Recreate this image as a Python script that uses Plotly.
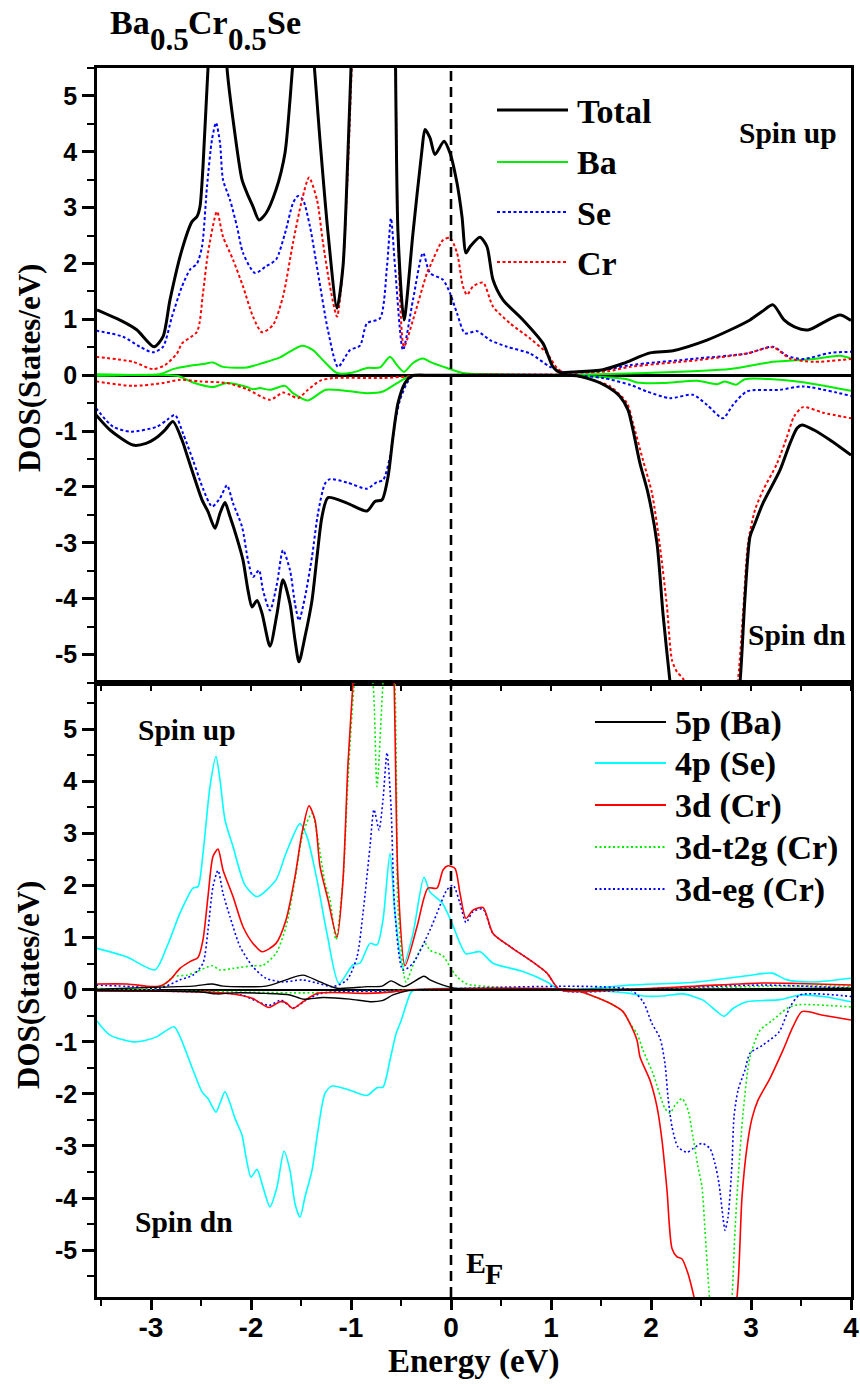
import plotly.graph_objects as go

# ---------------- Upper panel: total and atom-resolved DOS ----------------
E_total_up = [-3.54, -3.28, -3.14, -2.97, -2.88, -2.81, -2.69, -2.59, -2.54, -2.51, -2.48, -2.43, -2.37, -2.32,
              -2.27, -2.24, -2.18, -2.09, -2.04, -1.98, -1.92, -1.85, -1.75, -1.66, -1.61, -1.58, -1.51, -1.45,
              -1.39, -1.31, -1.23, -1.14, -1.08, -1.03, -0.99, -0.90, -0.78, -0.66, -0.58, -0.56, -0.53, -0.47,
              -0.38, -0.29, -0.26, -0.21, -0.16, -0.07, -0.01, 0.06, 0.11, 0.15, 0.19, 0.29, 0.36, 0.42, 0.52,
              0.72, 0.92, 1.02, 1.09, 1.22, 1.52, 1.72, 1.99, 2.22, 2.56, 2.79, 2.99, 3.11, 3.22, 3.33, 3.43,
              3.57, 3.74, 3.89, 4.0]
total_up = [1.17, 0.96, 0.81, 0.51, 0.69, 1.35, 2.25, 2.75, 2.84, 3.02, 3.74, 5.5, 7.2, 7.5,
            6.5, 5.5, 4.58, 3.5, 3.26, 3.02, 2.78, 2.9, 3.32, 3.98, 4.93, 5.6, 6.6, 6.8,
            6.0, 4.21, 2.55, 1.2, 1.95, 4.0, 6.0, 10.0, 12.0, 13.0, 9.0, 6.5, 2.55, 0.99,
            2.55, 4.04, 4.4, 4.25, 3.95, 4.19, 3.98, 3.44, 2.84, 2.19, 2.3, 2.47, 2.3, 1.71, 1.35,
            0.99, 0.57, 0.15, 0.05, 0.06, 0.1, 0.21, 0.4, 0.44, 0.63, 0.81, 0.99, 1.14, 1.26, 0.99, 0.87,
            0.81, 0.96, 1.08, 0.98]

E_total_dn = [-3.55, -3.41, -3.18, -3.05, -2.94, -2.86, -2.78, -2.69, -2.64, -2.58, -2.49, -2.43, -2.36, -2.31,
              -2.26, -2.21, -2.14, -2.08, -2.03, -1.99, -1.94, -1.89, -1.81, -1.74, -1.68, -1.61, -1.56, -1.52,
              -1.46, -1.39, -1.34, -1.29, -1.23, -1.04, -0.84, -0.76, -0.69, -0.63, -0.58, -0.53, -0.46, -0.39,
              -0.2, 0.5, 1.1, 1.26, 1.39, 1.56, 1.69, 1.77, 1.82, 1.89, 1.97, 2.06, 2.12, 2.19, 2.3, 2.55,
              2.78, 2.89, 2.94, 2.99, 3.04, 3.12, 3.29, 3.39, 3.46, 3.51, 3.63, 3.79, 4.0]
total_dn = [-0.71, -0.98, -1.25, -1.22, -1.11, -0.98, -0.83, -1.16, -1.43, -1.76, -2.23, -2.44, -2.74, -2.47,
            -2.28, -2.53, -2.92, -3.31, -3.85, -4.15, -4.03, -4.26, -4.85, -4.27, -3.66, -4.09, -4.74, -5.13,
            -4.68, -4.03, -3.25, -2.53, -2.19, -2.29, -2.43, -2.26, -2.23, -1.82, -1.1, -0.5, -0.14, -0.01,
            0.0, 0.0, 0.0, -0.01, -0.07, -0.2, -0.38, -0.62, -0.98, -1.58, -2.11, -3.01, -4.27, -5.49, -7.2, -8.5,
            -7.2, -5.5, -3.97, -2.89, -2.65, -2.29, -1.7, -1.22, -0.95, -0.89, -0.98, -1.16, -1.43]

E_ba_up = [-3.55, -2.91, -2.78, -2.61, -2.48, -2.38, -2.28, -2.04, -1.88, -1.71, -1.49, -1.38, -1.28, -1.14,
           -0.98, -0.84, -0.71, -0.61, -0.54, -0.47, -0.38, -0.28, -0.21, -0.04, 0.12, 0.5, 1.2, 1.96, 2.79,
           3.22, 3.63, 3.89, 4.0]
ba_up = [0.02, 0.02, 0.11, 0.17, 0.2, 0.23, 0.15, 0.14, 0.22, 0.32, 0.53, 0.45, 0.27, 0.04,
         0.05, 0.13, 0.14, 0.33, 0.18, 0.06, 0.22, 0.3, 0.24, 0.13, 0.04, 0.01, 0.01, 0.04, 0.11,
         0.24, 0.29, 0.35, 0.3]

E_ba_dn = [-3.55, -2.74, -2.58, -2.38, -2.24, -2.04, -1.98, -1.91, -1.81, -1.66, -1.58, -1.43, -1.25, -0.84,
           -0.68, -0.54, -0.43, -0.3, 1.2, 1.5, 1.76, 1.86, 2.12, 2.46, 2.66, 2.74, 2.85, 2.94, 3.46, 4.0]
ba_dn = [-0.01, -0.01, -0.13, -0.21, -0.14, -0.21, -0.25, -0.23, -0.26, -0.19, -0.32, -0.45, -0.26, -0.32,
         -0.29, -0.14, -0.03, 0.0, 0.0, -0.03, -0.07, -0.13, -0.14, -0.1, -0.16, -0.11, -0.17, -0.07, -0.11, -0.28]

E_se_up = [-3.55, -3.28, -3.11, -2.98, -2.88, -2.79, -2.69, -2.61, -2.54, -2.49, -2.44, -2.39, -2.35, -2.31,
           -2.28, -2.21, -2.14, -2.08, -1.96, -1.85, -1.75, -1.66, -1.58, -1.53, -1.48, -1.41, -1.33, -1.23,
           -1.13, -1.01, -0.91, -0.84, -0.71, -0.64, -0.60, -0.56, -0.48, -0.38, -0.28, -0.21, -0.08, -0.01,
           0.06, 0.14, 0.26, 0.39, 0.56, 0.79, 0.99, 1.12, 1.46, 1.79, 2.46, 2.96, 3.22, 3.36, 3.52, 3.79, 4.0]
se_up = [0.8, 0.69, 0.51, 0.41, 0.51, 1.05, 1.59, 1.89, 2.0, 2.3, 3.38, 4.22, 4.52, 4.16,
         3.5, 3.14, 2.66, 2.19, 1.83, 1.95, 2.07, 2.54, 3.08, 3.21, 3.14, 2.66, 1.83, 0.8,
         0.15, 0.45, 0.53, 0.93, 1.02, 1.95, 2.81, 1.95, 0.45, 1.35, 2.19, 1.83, 1.71, 1.47,
         1.11, 0.75, 0.79, 0.63, 0.51, 0.39, 0.15, 0.06, 0.07, 0.18, 0.3, 0.39, 0.51, 0.35, 0.29, 0.4, 0.42]

E_se_dn = [-3.55, -3.38, -3.2, -2.94, -2.84, -2.76, -2.68, -2.58, -2.48, -2.39, -2.31, -2.24, -2.18, -2.09,
           -2.03, -1.98, -1.92, -1.88, -1.81, -1.74, -1.68, -1.61, -1.56, -1.52, -1.46, -1.39, -1.33, -1.26,
           -1.21, -1.04, -0.84, -0.74, -0.68, -0.61, -0.56, -0.51, -0.44, -0.38, -0.2, 1.2, 1.52, 1.79, 1.96,
           2.19, 2.42, 2.56, 2.72, 2.82, 2.96, 3.29, 3.52, 4.0]
se_dn = [-0.59, -0.92, -1.01, -0.92, -0.8, -0.71, -1.04, -1.52, -2.03, -2.35, -2.2, -1.97, -2.29, -2.71,
         -3.31, -3.61, -3.49, -3.85, -4.21, -3.73, -3.13, -3.49, -4.09, -4.39, -3.97, -3.25, -2.47, -1.94,
         -1.86, -1.92, -2.03, -1.91, -1.88, -1.46, -0.86, -0.44, -0.14, -0.01, 0.0, 0.0, -0.05, -0.17, -0.29,
         -0.41, -0.35, -0.53, -0.77, -0.53, -0.29, -0.26, -0.2, -0.37]

E_cr_up = [-3.55, -3.18, -2.98, -2.86, -2.74, -2.69, -2.54, -2.48, -2.43, -2.34, -2.28, -2.18, -2.08, -1.98,
           -1.89, -1.78, -1.68, -1.58, -1.49, -1.42, -1.34, -1.28, -1.21, -1.14, -1.08, -1.03, -0.99, -0.92,
           -0.80, -0.68, -0.59, -0.555, -0.53, -0.47, -0.38, -0.24, -0.21, -0.08, -0.01, 0.06, 0.12, 0.16,
           0.22, 0.32, 0.42, 0.59, 0.79, 0.96, 1.06, 1.12, 1.56, 1.79, 2.46, 2.96, 3.22, 3.39, 3.63, 4.0]
cr_up = [0.33, 0.24, 0.11, 0.18, 0.39, 0.57, 0.78, 1.47, 2.19, 2.93, 2.48, 2.07, 1.59, 1.05,
         0.77, 0.9, 1.41, 2.37, 3.14, 3.54, 3.14, 2.37, 1.59, 1.05, 1.95, 3.74, 5.6, 8.0,
         10.0, 11.0, 8.0, 5.5, 2.54, 0.51, 0.99, 1.83, 1.95, 2.42, 2.46, 2.19, 1.59, 1.44,
         1.59, 1.66, 1.23, 0.93, 0.66, 0.39, 0.13, 0.06, 0.07, 0.15, 0.27, 0.39, 0.5, 0.3, 0.24, 0.29]

E_cr_dn = [-3.55, -3.18, -2.88, -2.71, -2.51, -2.24, -2.04, -1.81, -1.68, -1.61, -1.53, -1.43, -1.31, -1.18,
           -0.68, -0.34, -0.2, 1.2, 1.39, 1.59, 1.76, 1.82, 1.92, 2.01, 2.09, 2.16, 2.21, 2.26, 2.32, 2.36,
           2.5, 2.7, 2.86, 2.92, 2.97, 3.04, 3.12, 3.26, 3.36, 3.43, 3.52, 3.72, 4.0]
cr_dn = [-0.11, -0.19, -0.14, -0.08, -0.11, -0.14, -0.25, -0.44, -0.31, -0.35, -0.41, -0.26, -0.1, -0.05,
         -0.05, -0.01, 0.0, 0.0, -0.07, -0.2, -0.5, -0.86, -1.52, -2.11, -3.07, -4.15, -5.1, -5.31, -5.43, -5.7,
         -7.0, -7.0, -5.6, -4.27, -3.01, -2.41, -2.06, -1.58, -1.1, -0.74, -0.57, -0.67, -0.77]

# ---------------- Lower panel: orbital-resolved DOS ----------------
E_ba5p_up = [-3.55, -2.91, -2.58, -2.39, -2.28, -1.85, -1.65, -1.48, -1.31, -1.14, -0.84, -0.69, -0.6, -0.47,
             -0.27, -0.21, -0.08, 0.06, 0.29, 1.5, 4.0]
ba5p_up = [0.01, 0.05, 0.07, 0.11, 0.07, 0.07, 0.19, 0.28, 0.15, 0.03, 0.06, 0.07, 0.17, 0.06,
           0.26, 0.19, 0.09, 0.02, 0.0, 0.0, 0.03]

E_ba5p_dn = [-3.55, -2.51, -2.34, -2.18, -1.85, -1.61, -1.48, -1.28, -1.01, -0.81, -0.69, -0.58, -0.44, -0.3, 4.0]
ba5p_dn = [-0.02, -0.04, -0.08, -0.06, -0.07, -0.1, -0.18, -0.15, -0.18, -0.23, -0.21, -0.1, -0.02, 0.0, 0.0]

E_se4p_up = [-3.55, -3.24, -2.96, -2.84, -2.71, -2.58, -2.53, -2.48, -2.41, -2.35, -2.31, -2.26, -2.18, -2.06,
             -1.94, -1.75, -1.65, -1.51, -1.44, -1.34, -1.24, -1.12, -0.98, -0.91, -0.81, -0.74, -0.68, -0.61,
             -0.56, -0.48, -0.38, -0.27, -0.21, -0.09, 0.01, 0.09, 0.15, 0.29, 0.42, 0.72, 0.96, 1.09, 1.79,
             2.46, 2.96, 3.21, 3.36, 3.63, 4.0]
se4p_up = [0.8, 0.63, 0.38, 0.83, 1.47, 1.95, 1.98, 2.62, 3.9, 4.48, 4.03, 3.26, 2.75, 2.01,
           1.79, 2.11, 2.62, 3.19, 2.94, 2.11, 1.08, 0.12, 0.48, 0.51, 0.89, 0.86, 1.34, 2.62,
           1.47, 0.44, 1.08, 2.16, 1.88, 1.67, 1.28, 0.89, 0.69, 0.73, 0.51, 0.35, 0.15, 0.0, 0.09,
           0.15, 0.27, 0.32, 0.19, 0.15, 0.22]

E_se4p_dn = [-3.55, -3.41, -3.18, -3.05, -2.94, -2.77, -2.71, -2.58, -2.49, -2.43, -2.35, -2.31, -2.26, -2.21,
             -2.16, -2.09, -2.05, -2.0, -1.94, -1.88, -1.81, -1.74, -1.67, -1.61, -1.56, -1.51, -1.46, -1.39,
             -1.33, -1.26, -1.19, -1.01, -0.84, -0.74, -0.68, -0.61, -0.55, -0.5, -0.45, -0.4, -0.35, 1.2,
             1.79, 1.92, 2.12, 2.32, 2.52, 2.66, 2.73, 2.82, 2.96, 3.29, 3.49, 3.72, 4.0]
se4p_dn = [-0.58, -0.87, -1.0, -0.97, -0.9, -0.71, -0.9, -1.54, -1.96, -2.09, -2.35, -2.18, -1.96, -2.18,
           -2.47, -2.79, -3.21, -3.6, -3.45, -3.79, -4.17, -3.79, -3.1, -3.47, -4.11, -4.37, -3.98, -3.47,
           -2.7, -1.99, -1.85, -1.93, -2.03, -1.88, -1.87, -1.35, -0.85, -0.6, -0.3, -0.05, 0.0, 0.0,
           -0.07, -0.12, -0.12, -0.08, -0.2, -0.42, -0.51, -0.36, -0.23, -0.19, -0.1, -0.13, -0.23]

E_cr3d_up = [-3.55, -3.24, -3.0, -2.91, -2.81, -2.71, -2.61, -2.53, -2.48, -2.43, -2.38, -2.33, -2.28, -2.18,
             -2.08, -1.98, -1.89, -1.75, -1.65, -1.56, -1.49, -1.42, -1.36, -1.31, -1.23, -1.14, -1.08, -1.03,
             -0.97, -0.9, -0.78, -0.66, -0.59, -0.56, -0.53, -0.46, -0.34, -0.23, -0.14, -0.08, -0.03, 0.04,
             0.09, 0.15, 0.22, 0.32, 0.42, 0.59, 0.79, 0.96, 1.09, 1.79, 2.46, 3.12, 3.46, 4.0]
cr3d_up = [0.11, 0.11, 0.06, 0.07, 0.19, 0.41, 0.54, 0.62, 0.96, 1.79, 2.56, 2.7, 2.3, 1.79,
           1.21, 0.89, 0.73, 0.89, 1.34, 2.17, 3.01, 3.53, 3.26, 2.37, 1.73, 1.01, 2.11, 4.35,
           6.2, 8.5, 11.0, 11.5, 8.0, 5.0, 2.11, 0.46, 1.21, 1.95, 1.95, 2.3, 2.38, 2.33,
           1.85, 1.37, 1.53, 1.58, 1.08, 0.83, 0.57, 0.32, 0.0, 0.01, 0.07, 0.13, 0.12, 0.09]

E_cr3d_dn = [-3.55, -2.51, -2.18, -1.98, -1.82, -1.71, -1.65, -1.58, -1.48, -1.34, -0.84, -0.58, -0.41, 1.22,
             1.39, 1.59, 1.72, 1.79, 1.86, 1.89, 1.99, 2.06, 2.11, 2.16, 2.21, 2.26, 2.31, 2.37, 2.43, 2.55,
             2.75, 2.86, 2.91, 2.96, 3.01, 3.07, 3.19, 3.32, 3.42, 3.51, 3.72, 4.0]
cr3d_dn = [-0.02, -0.04, -0.08, -0.17, -0.34, -0.23, -0.25, -0.36, -0.23, -0.07, -0.07, -0.04, 0.0, 0.0,
           -0.1, -0.26, -0.42, -0.65, -0.97, -1.29, -1.74, -2.25, -2.89, -3.85, -4.97, -5.13, -5.17, -5.45, -5.9, -7.0,
           -7.0, -5.9, -3.98, -3.02, -2.47, -2.12, -1.7, -1.16, -0.71, -0.42, -0.49, -0.58]

E_t2g_up = [-3.55, -2.91, -2.78, -2.64, -2.54, -2.39, -2.31, -2.18, -1.98, -1.88, -1.75, -1.65, -1.56, -1.48,
            -1.39, -1.33, -1.26, -1.21, -1.15, -1.08, -1.03, -0.96, -0.87, -0.78, -0.74, -0.68, -0.62, -0.57,
            -0.545, -0.53, -0.45, -0.36, -0.26, -0.21, -0.08, -0.01, 0.06, 0.16, 0.46, 0.79, 1.8, 2.5, 3.2, 4.0]
t2g_up = [0.03, 0.03, 0.25, 0.28, 0.35, 0.46, 0.38, 0.41, 0.46, 0.47, 0.7, 1.21, 2.11, 3.01,
          3.39, 2.88, 2.05, 1.73, 0.96, 2.11, 4.03, 6.0, 7.0, 5.9, 3.9, 5.9, 7.5, 6.5,
          4.0, 1.6, 0.15, 0.57, 0.89, 0.76, 0.65, 0.44, 0.25, 0.11, 0.05, 0.01, 0.01, 0.03, 0.07, 0.07]

E_t2g_dn = [-3.55, -2.5, -1.5, -1.0, -0.5, -0.3, 1.22, 1.39, 1.59, 1.72, 1.79, 1.86, 1.92, 2.02, 2.14, 2.19,
            2.24, 2.31, 2.37, 2.42, 2.47, 2.51, 2.54, 2.58, 2.65, 2.75, 2.81, 2.84, 2.87, 2.92, 2.99, 3.09,
            3.22, 3.36, 3.46, 4.0]
t2g_dn = [-0.01, -0.03, -0.06, -0.04, -0.01, 0.0, 0.0, -0.1, -0.26, -0.42, -0.65, -0.84, -1.16, -1.61, -2.28, -2.37,
          -2.22, -2.09, -2.31, -2.83, -3.4, -3.79, -4.62, -5.77, -7.0, -7.0, -5.9, -4.62, -3.66, -2.38, -1.29, -0.78,
          -0.58, -0.36, -0.29, -0.33]

E_eg_up = [-3.55, -3.18, -2.91, -2.71, -2.58, -2.48, -2.43, -2.38, -2.33, -2.28, -2.21, -2.11, -1.98, -1.85,
           -1.68, -1.49, -1.34, -1.18, -1.04, -0.94, -0.88, -0.81, -0.77, -0.72, -0.68, -0.64, -0.6, -0.56,
           -0.48, -0.38, -0.21, -0.14, -0.04, 0.02, 0.09, 0.15, 0.22, 0.32, 0.42, 0.59, 0.79, 0.96, 1.09,
           2.0, 3.12, 4.0]
eg_up = [0.09, 0.06, 0.03, 0.19, 0.28, 0.51, 1.15, 1.98, 2.29, 1.85, 1.4, 0.83, 0.44, 0.22,
         0.15, 0.19, 0.13, 0.06, 0.19, 0.63, 1.47, 2.75, 3.46, 3.07, 3.65, 4.55, 3.52, 1.47,
         0.38, 0.51, 1.15, 1.47, 1.92, 2.01, 1.66, 1.29, 1.5, 1.55, 1.08, 0.83, 0.57, 0.32, 0.0,
         0.02, 0.09, 0.03]

E_eg_dn = [-3.55, -2.4, -2.1, -1.82, -1.7, -1.58, -1.45, -1.3, -0.5, -0.3, 1.79, 1.92, 2.01, 2.09, 2.14, 2.17,
           2.21, 2.27, 2.36, 2.42, 2.51, 2.59, 2.64, 2.68, 2.72, 2.74, 2.77, 2.81, 2.83, 2.87, 2.94, 2.99, 3.12,
           3.28, 3.39, 3.49, 4.0]
eg_dn = [-0.01, -0.05, -0.1, -0.3, -0.2, -0.35, -0.2, -0.07, -0.02, 0.0, 0.0, -0.23, -0.65, -0.93, -1.42, -2.06,
         -2.63, -3.02, -3.12, -3.05, -2.95, -3.05, -3.34, -3.72, -4.37, -4.62, -4.37, -3.34, -2.44, -1.93, -1.54, -1.22, -1.06,
         -0.81, -0.33, -0.1, -0.13]

# axis ticks
x_ticks = [-3, -2, -1, 0, 1, 2, 3, 4]
x_ticktext = ["-3", "-2", "-1", "0", "1", "2", "3", "4"]
y_ticks = [-5, -4, -3, -2, -1, 0, 1, 2, 3, 4, 5]
y_ticktext = ["-5", "-4", "-3", "-2", "-1", "0", "1", "2", "3", "4", "5"]

# ---------------- figure geometry ----------------
W, H = 860, 1384
ML, MR, MT, MB = 97, 9, 68, 87
PW, PH = W - ML - MR, H - MT - MB


def fx(px):
    return (px - ML) / PW


def fy(py):
    return (H - MB - py) / PH


SERIF = "Liberation Serif"
SANS = "Liberation Sans"

GREEN = "#00ee00"
BLUE = "#0000ff"
RED = "#ff0000"
CYAN = "#00ffff"
BLACK = "#000000"

STYLE = {
    "Total": dict(color=BLACK, width=3, dash="solid"),
    "Ba": dict(color=GREEN, width=2, dash="solid"),
    "Se": dict(color=BLUE, width=2, dash="3px,2.5px"),
    "Cr": dict(color=RED, width=2, dash="3px,2.5px"),
    "5p (Ba)": dict(color=BLACK, width=1.4, dash="solid"),
    "4p (Se)": dict(color=CYAN, width=1.6, dash="solid"),
    "3d (Cr)": dict(color=RED, width=1.6, dash="solid"),
    "3d-t2g (Cr)": dict(color=GREEN, width=1.6, dash="2px,2.5px"),
    "3d-eg (Cr)": dict(color=BLUE, width=1.6, dash="2px,2.5px"),
}

fig = go.Figure()


def add(name, xs, ys, panel):
    xa, ya = ("x", "y") if panel == 1 else ("x2", "y2")
    fig.add_trace(go.Scatter(
        x=xs, y=ys, name=name, mode="lines", showlegend=False,
        line=dict(shape="spline", smoothing=0.7, **STYLE[name]),
        xaxis=xa, yaxis=ya, hoverinfo="x+y+name",
    ))


# upper panel
add("Ba", E_ba_up, ba_up, 1)
add("Ba", E_ba_dn, ba_dn, 1)
add("Se", E_se_up, se_up, 1)
add("Se", E_se_dn, se_dn, 1)
add("Cr", E_cr_up, cr_up, 1)
add("Cr", E_cr_dn, cr_dn, 1)
add("Total", E_total_up, total_up, 1)
add("Total", E_total_dn, total_dn, 1)

# lower panel
add("4p (Se)", E_se4p_up, se4p_up, 2)
add("4p (Se)", E_se4p_dn, se4p_dn, 2)
add("3d-t2g (Cr)", E_t2g_up, t2g_up, 2)
add("3d-t2g (Cr)", E_t2g_dn, t2g_dn, 2)
add("3d-eg (Cr)", E_eg_up, eg_up, 2)
add("3d-eg (Cr)", E_eg_dn, eg_dn, 2)
add("3d (Cr)", E_cr3d_up, cr3d_up, 2)
add("3d (Cr)", E_cr3d_dn, cr3d_dn, 2)
add("5p (Ba)", E_ba5p_up, ba5p_up, 2)
add("5p (Ba)", E_ba5p_dn, ba5p_dn, 2)

xrange_ = [-3.54, 4.0]

common_axis = dict(showline=True, linewidth=2.6, linecolor=BLACK, mirror=True,
                   showgrid=False, ticks="outside", tickcolor=BLACK, automargin=False)

fig.update_layout(
    width=W, height=H,
    margin=dict(l=ML, r=MR, t=MT, b=MB, autoexpand=False),
    paper_bgcolor="white", plot_bgcolor="white",
    showlegend=False,
    xaxis=dict(domain=[0, 1], anchor="y", range=xrange_, zeroline=False,
               tickmode="array", tickvals=x_ticks, ticktext=x_ticktext, showticklabels=False,
               ticklen=6, tickwidth=2,
               minor=dict(tickmode="linear", tick0=0, dtick=0.5, ticklen=6, tickwidth=2,
                          ticks="outside", tickcolor=BLACK),
               **common_axis),
    yaxis=dict(domain=[0.5, 1], anchor="x", range=[-5.5, 5.5],
               zeroline=True, zerolinecolor=BLACK, zerolinewidth=2.6,
               tickmode="array", tickvals=y_ticks, ticktext=y_ticktext,
               ticklen=12, tickwidth=2.5,
               tickfont=dict(family=SANS, size=25, color=BLACK, weight="bold"),
               minor=dict(tickmode="linear", tick0=0, dtick=0.5, ticklen=7, tickwidth=2,
                          ticks="outside", tickcolor=BLACK),
               **common_axis),
    xaxis2=dict(domain=[0, 1], anchor="y2", range=xrange_, zeroline=False,
                tickmode="array", tickvals=x_ticks, ticktext=x_ticktext,
                ticklen=10, tickwidth=2.5, ticklabelstandoff=-6,
                tickfont=dict(family=SANS, size=28, color=BLACK, weight="bold"),
                minor=dict(tickmode="linear", tick0=0, dtick=0.5, ticklen=6, tickwidth=2,
                           ticks="outside", tickcolor=BLACK),
                **common_axis),
    yaxis2=dict(domain=[0, 0.5], anchor="x2", range=[-5.9, 5.9],
                zeroline=True, zerolinecolor=BLACK, zerolinewidth=1.6,
                tickmode="array", tickvals=y_ticks, ticktext=y_ticktext,
                ticklen=12, tickwidth=2.5,
                tickfont=dict(family=SANS, size=25, color=BLACK, weight="bold"),
                minor=dict(tickmode="linear", tick0=0, dtick=0.5, ticklen=7, tickwidth=2,
                           ticks="outside", tickcolor=BLACK),
                **common_axis),
)

# Fermi level marker through both panels
fig.add_shape(type="line", xref="x", yref="paper", x0=0, x1=0, y0=0, y1=1,
              line=dict(color=BLACK, width=2.6, dash="10px,6px"), layer="above")

annotations = []


def text(s, px, py, size, anchor="left", angle=0):
    annotations.append(dict(
        text=s, x=fx(px), y=fy(py), xref="paper", yref="paper",
        xanchor=anchor, yanchor="middle", showarrow=False, textangle=angle,
        borderpad=0,
        font=dict(family=SERIF, size=size, color=BLACK, weight="bold"),
    ))


# hand-placed legends with long line samples
legend_top = [("Total", 110), ("Ba", 162), ("Se", 212), ("Cr", 262)]
for name, ly in legend_top:
    st = STYLE[name]
    fig.add_shape(type="line", xref="paper", yref="paper",
                  x0=fx(497), x1=fx(568), y0=fy(ly), y1=fy(ly),
                  line=dict(color=st["color"], width=st["width"], dash=st["dash"]))
    text(name, 576, ly + 1, 34)

legend_bottom = [("5p (Ba)", 722), ("4p (Se)", 763), ("3d (Cr)", 805),
                 ("3d-t2g (Cr)", 847), ("3d-eg (Cr)", 889)]
for name, ly in legend_bottom:
    st = STYLE[name]
    fig.add_shape(type="line", xref="paper", yref="paper",
                  x0=fx(595), x1=fx(666), y0=fy(ly), y1=fy(ly),
                  line=dict(color=st["color"], width=st["width"] + 0.4, dash=st["dash"]))
    text(name, 674, ly + 1, 34)

# compound title with full-size lowered stoichiometry
text("Ba", 109, 23, 34)
text("0.5", 149, 40, 31)
text("Cr", 187, 23, 34)
text("0.5", 227, 40, 31)
text("Se", 266, 23, 34)

# spin channel labels
text("Spin up", 738, 133, 29.5)
text("Spin dn", 747, 635, 29.5)
text("Spin up", 137, 730, 29.5)
text("Spin dn", 134, 1222, 29.5)

# Fermi level label
text("E", 465, 1262, 30)
text("F", 484, 1273, 30)

# axis titles
text("DOS(States/eV)", 29, 368, 31, anchor="center", angle=-90)
text("DOS(States/eV)", 29, 985, 31, anchor="center", angle=-90)
text("Energy (eV)", 473, 1361, 33, anchor="center")

fig.update_layout(annotations=annotations)

fig.write_html("out.html")
